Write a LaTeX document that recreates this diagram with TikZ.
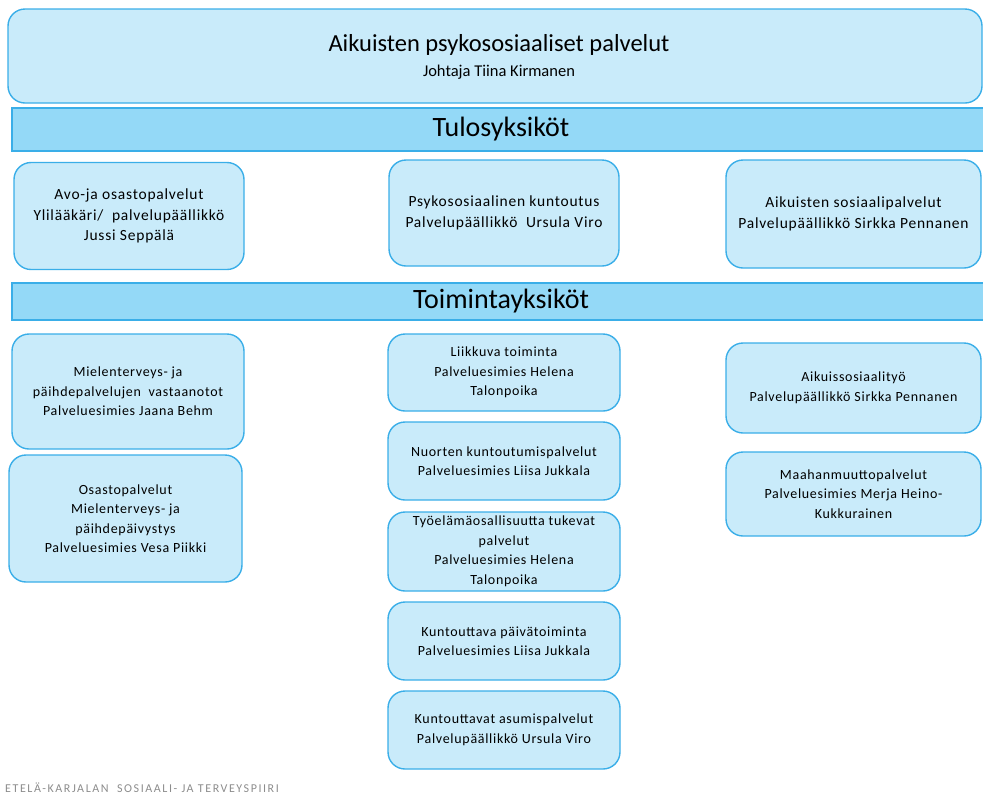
\documentclass[tikz,border=0pt]{standalone}
\usepackage{fontspec}
\setmainfont{Carlito}
\newfontfamily\boxfont[LetterSpace=5]{Carlito}
\newfontfamily\footfont[LetterSpace=13]{Carlito}
\definecolor{edgeblue}{HTML}{3AAEE8}
\definecolor{paleblue}{HTML}{C9EBFA}
\definecolor{bandblue}{HTML}{94D9F7}
\definecolor{footgray}{HTML}{8C8C8C}
\begin{document}
\begin{tikzpicture}[x=1pt,y=-1pt,
  unitbox/.style={draw=edgeblue,fill=paleblue,line width=1.4pt,rounded corners=17pt,
    align=center,inner sep=0pt,font=\boxfont\fontsize{14}{19.5}\selectfont},
  bigbox/.style={unitbox,font=\boxfont\fontsize{15.5}{20.5}\selectfont},
  band/.style={draw=edgeblue,fill=bandblue,line width=1.4pt,inner sep=0pt,
    font=\fontsize{28}{30}\selectfont}]
\useasboundingbox (0,0) rectangle (983,796);
\node[unitbox,minimum width=974,minimum height=94] (top) at (495,56) {};
\node (title) at (499,45) {\fontsize{24.5}{28}\selectfont Aikuisten psykososiaaliset palvelut};
\node (head) at (499,72) {\fontsize{16.5}{18}\selectfont Johtaja Tiina Kirmanen};
\node[band,minimum width=978,minimum height=43] (tulos) at (501,129.5) {Tulosyksiköt};
\node[bigbox,minimum width=230,minimum height=107] (avo) at (129,216) {Avo-ja osastopalvelut\\Ylilääkäri/\ \ palvelupäällikkö\\Jussi Seppälä};
\node[bigbox,minimum width=230,minimum height=106] (kuntoutus) at (504,213) {Psykososiaalinen kuntoutus\\Palvelupäällikkö\ \ Ursula Viro};
\node[bigbox,minimum width=255,minimum height=108] (sosiaali) at (853.5,214) {Aikuisten sosiaalipalvelut\\Palvelupäällikkö Sirkka Pennanen};
\node[band,minimum width=978,minimum height=37] (toiminta) at (501,301.5) {Toimintayksiköt};
% vasen sarake
\node[unitbox,minimum width=232,minimum height=115] (vastaanotot) at (128,391.5) {Mielenterveys- ja\\päihdepalvelujen\ \ vastaanotot\\Palveluesimies Jaana Behm};
\node[unitbox,minimum width=233,minimum height=127] (osasto) at (125.5,518.5) {Osastopalvelut\\Mielenterveys- ja\\päihdepäivystys\\Palveluesimies Vesa Piikki};
% keskimmäinen sarake
\node[unitbox,minimum width=232,minimum height=77] (liikkuva) at (504,372.5) {Liikkuva toiminta\\Palveluesimies Helena\\Talonpoika};
\node[unitbox,minimum width=232,minimum height=78] (nuoret) at (504,461) {Nuorten kuntoutumispalvelut\\Palveluesimies Liisa Jukkala};
\node[unitbox,minimum width=232,minimum height=79] (tyoelama) at (504,551.5) {Työelämäosallisuutta tukevat\\palvelut\\Palveluesimies Helena\\Talonpoika};
\node[unitbox,minimum width=232,minimum height=78] (paiva) at (504,641) {Kuntouttava päivätoiminta\\Palveluesimies Liisa Jukkala};
\node[unitbox,minimum width=232,minimum height=78] (asuminen) at (504,730) {Kuntouttavat asumispalvelut\\Palvelupäällikkö Ursula Viro};
% oikea sarake
\node[unitbox,minimum width=255,minimum height=90] (sostyo) at (853.5,388) {Aikuissosiaalityö\\Palvelupäällikkö Sirkka Pennanen};
\node[unitbox,minimum width=255,minimum height=84] (maahan) at (853.5,494) {Maahanmuuttopalvelut\\Palveluesimies Merja Heino-\\Kukkurainen};
\node[anchor=base west,inner sep=0pt,text=footgray,font=\footfont\fontsize{12}{14}\selectfont] (piiri) at (5,792) {ETELÄ-KARJALAN\ \ SOSIAALI- JA TERVEYSPIIRI};
\end{tikzpicture}
\end{document}
